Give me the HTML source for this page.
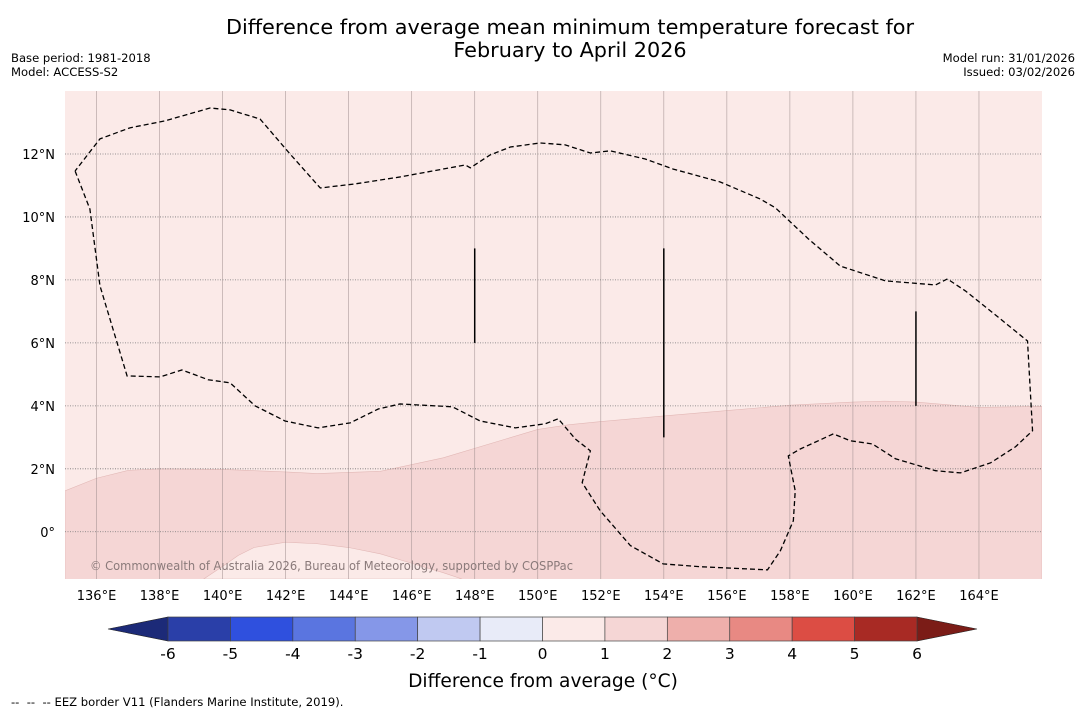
<!DOCTYPE html>
<html><head><meta charset="utf-8"><style>
body{margin:0;background:#fff;width:1085px;height:713px;overflow:hidden;font-family:"DejaVu Sans","Liberation Sans",sans-serif;}
svg{position:absolute;left:0;top:0}
</style></head><body>
<svg id="chart" width="1085" height="713">
<text x="570" y="34" font-size="20.8" text-anchor="middle">Difference from average mean minimum temperature forecast for</text>
<text x="570" y="57" font-size="20.8" text-anchor="middle">February to April 2026</text>
<text x="11" y="62" font-size="11.6">Base period: 1981-2018</text>
<text x="11" y="76" font-size="11.6">Model: ACCESS-S2</text>
<text x="1075" y="62" font-size="11.6" text-anchor="end">Model run: 31/01/2026</text>
<text x="1075" y="76" font-size="11.6" text-anchor="end">Issued: 03/02/2026</text>
<g id="map"></g>
<g id="cbar"></g>
<text x="543" y="687" font-size="18.6" text-anchor="middle">Difference from average (°C)</text>
<text x="11" y="706" font-size="11.6" xml:space="preserve">--  --  -- EEZ border V11 (Flanders Marine Institute, 2019).</text>
</svg>
<script>
const lonTicks=[136,138,140,142,144,146,148,150,152,154,156,158,160,162,164];
const latTicks=[0,2,4,6,8,10,12];
const warmLon=[135,136,137,138,140,142,143,145,147,149,150,151,152,154,156,158,160,161,162,164,166];
const warmLat=[1.3,1.7,1.95,2.0,1.98,1.9,1.85,1.92,2.35,2.95,3.25,3.4,3.5,3.68,3.85,4.02,4.12,4.15,4.12,3.95,3.98];
const coolLon=[139.4,140,140.5,141,142,143,144,145,146,147,147.6];
const coolLat=[-1.5,-1.1,-0.75,-0.5,-0.33,-0.38,-0.5,-0.7,-1.0,-1.3,-1.5];
const eezLon=[135.32,135.79,136.11,136.97,138.02,138.71,139.54,140.24,141.03,141.98,143.03,144.05,144.94,145.63,147.29,148.17,149.29,150.24,150.65,151.19,151.67,151.41,151.98,152.94,153.98,155.16,157.29,157.70,158.11,158.17,157.95,158.33,159.38,159.92,160.62,161.35,162.62,163.41,164.37,165.16,165.70,165.54,164.68,163.57,163.0,162.62,161.03,159.6,158.59,157.54,157.06,155.79,154.3,153.41,152.3,151.67,150.87,150.08,149.13,148.49,147.86,147.70,145.63,144.21,143.10,142.14,141.19,140.24,139.6,138.17,137.06,136.11,135.32];
const eezLat=[11.46,10.25,7.81,4.95,4.92,5.14,4.83,4.73,4.0,3.52,3.30,3.46,3.90,4.06,3.97,3.52,3.30,3.43,3.59,2.95,2.57,1.56,0.67,-0.44,-1.02,-1.11,-1.21,-0.60,0.35,1.30,2.41,2.63,3.11,2.89,2.79,2.32,1.94,1.87,2.19,2.70,3.21,6.06,6.76,7.65,8.03,7.84,7.97,8.44,9.30,10.29,10.57,11.11,11.52,11.84,12.10,12.03,12.29,12.35,12.22,11.97,11.56,11.65,11.27,11.05,10.92,12.0,13.11,13.40,13.46,13.05,12.83,12.48,11.46];
const segLon=[148,154,162];
const segLat0=[6,3,4];
const segLat1=[9,9,7];
const cbLevels=[-6,-5,-4,-3,-2,-1,0,1,2,3,4,5,6];
const cbColors=["#2a3fa8","#2f50de","#5a75e0","#8597e8","#c0c9f1","#e8ebf8","#fbeae8","#f5d6d5","#eeafab","#e88983","#dc4d44","#a82a24"];
const cbLow="#1c2a78",cbHigh="#7b1c17";

const NS="http://www.w3.org/2000/svg";
const L=65,R=1042,T=91,B=579,lon0=135,lon1=166,lat0=-1.5,lat1=14;
const X=v=>L+(v-lon0)/(lon1-lon0)*(R-L);
const Y=v=>B-(v-lat0)/(lat1-lat0)*(B-T);
function mk(tag,attrs,parent){const e=document.createElementNS(NS,tag);for(const k in attrs)e.setAttribute(k,attrs[k]);parent.appendChild(e);return e;}
const map=document.getElementById('map');
const cp=mk('clipPath',{id:'clip'},map);mk('rect',{x:L,y:T,width:R-L,height:B-T},cp);
const g=mk('g',{'clip-path':'url(#clip)'},map);
let bg=mk('rect',{x:L,y:T,width:R-L,height:B-T,fill:'#fbeae8'},g);


let d='M'+X(warmLon[0])+','+Y(-2);
warmLon.forEach((v,i)=>{d+=' L'+X(v)+','+Y(warmLat[i]);});
d+=' L'+X(166)+','+Y(-2)+'Z';
let wp=mk('path',{d:d,fill:'#f5d6d5',stroke:'#e2b8b6','stroke-width':0.6},g);


d='M'+X(coolLon[0])+','+Y(coolLat[0]);
coolLon.forEach((v,i)=>{d+=' L'+X(v)+','+Y(coolLat[i]);});
d+='Z';
let cpth=mk('path',{d:d,fill:'#fbeae8',stroke:'#e2b8b6','stroke-width':0.6},g);


lonTicks.forEach(v=>{
 let l=mk('line',{x1:X(v),x2:X(v),y1:T,y2:B,stroke:'#9a8a8a','stroke-width':0.7,opacity:0.7},g);
 
 
 let t=mk('text',{x:X(v),y:600,'font-size':13,'text-anchor':'middle'},map);
 t.textContent=v+'°E';
 
 
});
latTicks.forEach(v=>{
 let l=mk('line',{x1:L,x2:R,y1:Y(v),y2:Y(v),stroke:'#777','stroke-width':0.8,'stroke-dasharray':'1,1.5'},g);
 
 
 let t=mk('text',{x:55,y:Y(v)+5,'font-size':13,'text-anchor':'end'},map);
 t.textContent=v===0?'0°':v+'°N';
 
 
});
d='';eezLon.forEach((v,i)=>{d+=(i?' L':'M')+X(v)+','+Y(eezLat[i]);});
let ez=mk('path',{d:d,fill:'none',stroke:'#000','stroke-width':1.3,'stroke-dasharray':'5,3'},g);


segLon.forEach((v,i)=>{
 let l=mk('line',{x1:X(v),x2:X(v),y1:Y(segLat0[i]),y2:Y(segLat1[i]),stroke:'#000','stroke-width':1.5},g);
 
 
});
let wm=mk('text',{x:90,y:570,'font-size':12,fill:'#8a7a7a',textLength:483,lengthAdjust:'spacingAndGlyphs'},g);
wm.textContent='© Commonwealth of Australia 2026, Bureau of Meteorology, supported by COSPPac';



const cb=document.getElementById('cbar');
const cx0=168,cx1=917,cy=617,ch=24,cw=(cx1-cx0)/(cbLevels.length-1);
const CX=v=>cx0+(v-cbLevels[0])*cw;
let lt=mk('polygon',{points:`108,${cy+ch/2} ${cx0},${cy} ${cx0},${cy+ch}`,fill:cbLow,stroke:'#222','stroke-width':0.6},cb);


let rt=mk('polygon',{points:`${cx1},${cy} 977,${cy+ch/2} ${cx1},${cy+ch}`,fill:cbHigh,stroke:'#222','stroke-width':0.6},cb);


cbColors.forEach((c,i)=>{
 let r=mk('rect',{x:CX(cbLevels[i]),y:cy,width:cw,height:ch,fill:c,stroke:'#444','stroke-width':0.7},cb);
 
 
});
cbLevels.forEach(v=>{
 let t=mk('text',{x:CX(v),y:cy+ch+18,'font-size':15.5,'text-anchor':'middle'},cb);
 t.textContent=v;
 
 
});
</script>
</body></html>
